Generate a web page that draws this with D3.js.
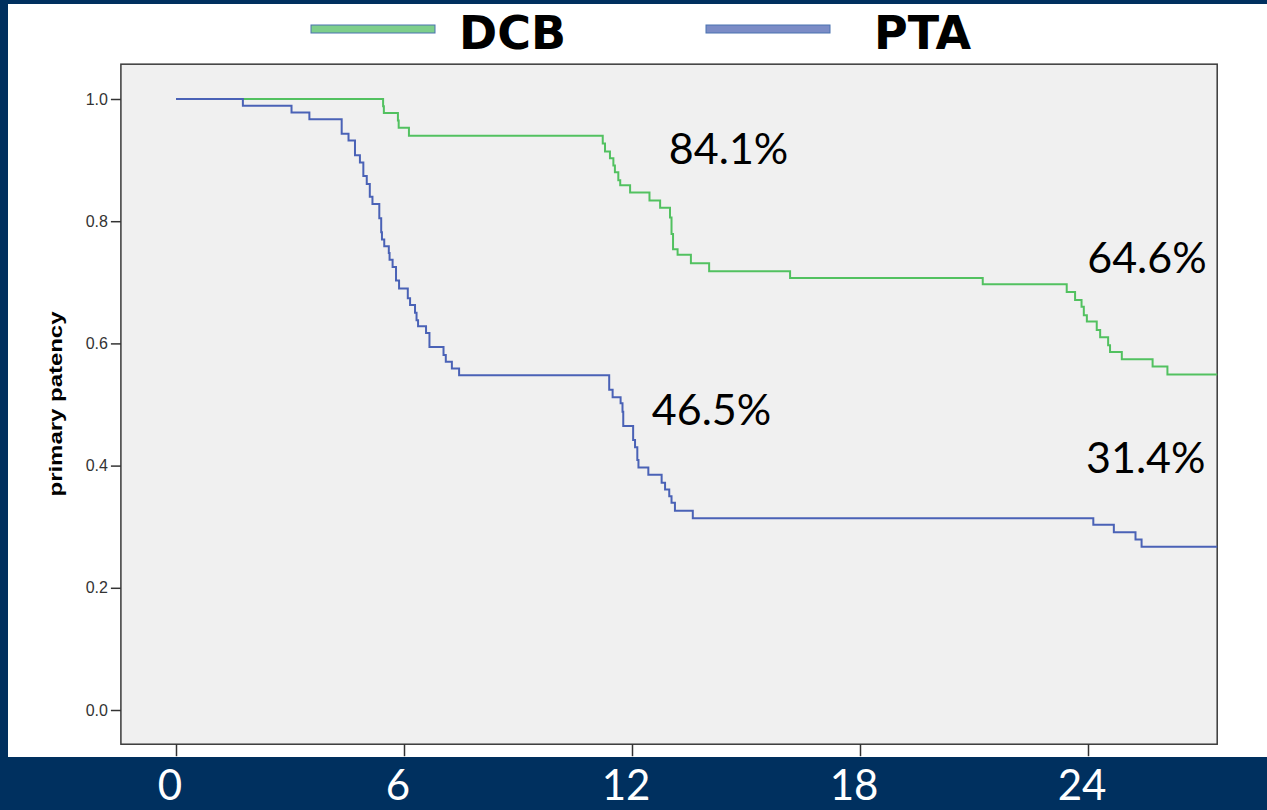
<!DOCTYPE html>
<html>
<head>
<meta charset="utf-8">
<script src="https://cdn.jsdelivr.net/npm/d3@7"></script>
<style>
  body { margin: 0; background: #00305f; }
</style>
</head>
<body>
<script>
'use strict';

// kaplan-meier steps (months, survival)
const dcbMonths = [0, 5.45, 5.47, 5.84, 5.86, 6.13, 11.23, 11.29, 11.42, 11.51,
  11.55, 11.64, 11.69, 11.95, 12.46, 12.74, 13.00, 13.04, 13.08, 13.20,
  13.55, 14.03, 16.16, 21.23, 23.44, 23.66, 23.83, 23.89, 23.97, 24.23,
  24.32, 24.53, 24.58, 24.89, 25.70, 26.09];
const dcbValues = [1, 0.988, 0.977, 0.965, 0.953, 0.940, 0.927, 0.914, 0.903, 0.891,
  0.880, 0.867, 0.859, 0.847, 0.834, 0.822, 0.806, 0.779, 0.754, 0.745,
  0.731, 0.718, 0.707, 0.697, 0.684, 0.671, 0.660, 0.646, 0.636, 0.622,
  0.610, 0.597, 0.586, 0.574, 0.562, 0.549];

const ptaMonths = [0, 1.76, 3.04, 3.51, 4.36, 4.54, 4.71, 4.84, 4.93, 5.02,
  5.10, 5.17, 5.35, 5.40, 5.42, 5.48, 5.60, 5.62, 5.70, 5.79,
  5.87, 6.10, 6.16, 6.29, 6.33, 6.37, 6.58, 6.67, 7.04, 7.10,
  7.26, 7.45, 11.40, 11.49, 11.70, 11.75, 11.77, 12.03, 12.08, 12.14,
  12.17, 12.43, 12.78, 12.87, 12.98, 13.04, 13.13, 13.60, 24.14, 24.68,
  25.25, 25.41];
const ptaValues = [1, 0.989, 0.978, 0.967, 0.943, 0.932, 0.908, 0.896, 0.874, 0.861,
  0.840, 0.828, 0.805, 0.782, 0.770, 0.759, 0.748, 0.737, 0.725, 0.703,
  0.690, 0.674, 0.663, 0.650, 0.638, 0.628, 0.617, 0.594, 0.581, 0.570,
  0.559, 0.548, 0.524, 0.512, 0.502, 0.488, 0.465, 0.442, 0.430, 0.409,
  0.397, 0.385, 0.372, 0.361, 0.350, 0.339, 0.326, 0.314, 0.303, 0.291,
  0.279, 0.267];

const followUpEnd = 27.4;
const seriesNames = ['DCB', 'PTA'];
const xTicks = [0, 6, 12, 18, 24];
const yTicks = [0, 0.2, 0.4, 0.6, 0.8, 1.0];
const yTitle = 'primary patency';
const rateLabels = ['84.1%', '64.6%', '46.5%', '31.4%'];

(function() {

  let svg = '';
  let map = '';

  window.onload = function() {
    svg = d3.select('body')
      .append('svg')
      .attr('width', 1267)
      .attr('height', 810)
      .style('display', 'block');

    // dark slide background with the white chart panel
    svg.append('rect')
      .attr('width', 1267).attr('height', 810)
      .attr('fill', '#00305f');
    svg.append('rect')
      .attr('x', 8).attr('y', 4)
      .attr('width', 1259).attr('height', 753)
      .attr('fill', 'white');

    map = drawAxes();
    plotCurves(map);
    makeLegend();
    makeLabels(map);
  }

  // scales, frame, ticks
  function drawAxes() {
    let xScale = d3.scaleLinear().domain([0, 24]).range([176, 1088]);
    let yScale = d3.scaleLinear().domain([0, 1]).range([710, 99]);

    let x0 = xScale(-1.45), x1 = xScale(followUpEnd);
    let yTop = yScale(1.057), yBot = yScale(-0.056);

    // grey plot area
    svg.append('rect')
      .attr('x', x0).attr('y', yTop)
      .attr('width', x1 - x0).attr('height', yBot - yTop)
      .attr('fill', '#f0f0f0')
      .attr('stroke', '#3a3a3a')
      .attr('stroke-width', 1.5);

    // y axis on the left of the frame
    let yAxis = d3.axisLeft(yScale)
      .tickValues(yTicks)
      .tickFormat(d3.format('.1f'))
      .tickSize(10)
      .tickPadding(3);
    let gy = svg.append('g')
      .attr('transform', 'translate(' + x0 + ',0)')
      .call(yAxis);
    gy.select('.domain').remove();
    gy.selectAll('line').attr('stroke', '#333').attr('stroke-width', 1.5);
    gy.selectAll('text')
      .attr('fill', '#333')
      .style('font', '16px "Liberation Sans", Arial, sans-serif');

    // x axis ticks under the frame
    let xAxis = d3.axisBottom(xScale)
      .tickValues(xTicks)
      .tickSize(12)
      .tickFormat('');
    let gx = svg.append('g')
      .attr('transform', 'translate(0,' + yBot + ')')
      .call(xAxis);
    gx.select('.domain').remove();
    gx.selectAll('line').attr('stroke', '#333').attr('stroke-width', 1.5);

    // big white month labels on the blue band
    svg.selectAll('.xlab')
      .data(xTicks)
      .enter()
      .append('text')
      .attr('class', 'xlab')
      .attr('x', (d) => xScale(d) - 6)
      .attr('y', 800)
      .attr('text-anchor', 'middle')
      .attr('fill', 'white')
      .style('font', '42px Lato, "Open Sans", sans-serif')
      .text((d) => d);

    return { x: xScale, y: yScale };
  }

  function plotCurves(m) {
    const line = d3.line()
      .x(d => m.x(d[0]))
      .y(d => m.y(d[1]))
      .curve(d3.curveStepAfter);

    let groups = [
      { months: dcbMonths, values: dcbValues, color: '#52c160' },
      { months: ptaMonths, values: ptaValues, color: '#4a62b6' }
    ];

    groups.forEach((g) => {
      let pts = g.months.map((t, i) => [t, g.values[i]]);
      pts.push([followUpEnd, g.values[g.values.length - 1]]);
      svg.append('path')
        .datum(pts)
        .attr('d', line)
        .attr('fill', 'none')
        .attr('stroke', g.color)
        .attr('stroke-width', 2);
    });
  }

  // legend swatches at the top of the slide
  function makeLegend() {
    let fills = ['#7dce8b', '#7b8cc6'];
    let starts = [311, 706];
    let textX = [459, 874];
    seriesNames.forEach((name, i) => {
      svg.append('rect')
        .attr('x', starts[i]).attr('y', 25)
        .attr('width', 124).attr('height', 8)
        .attr('fill', fills[i])
        .attr('stroke', '#4a72b0')
        .attr('stroke-width', 1);
      svg.append('text')
        .attr('x', textX[i])
        .attr('y', 49)
        .style('font', 'bold 46px "DejaVu Sans", sans-serif')
        .attr('fill', 'black')
        .text(name);
    });
  }

  // y title and the patency rates
  function makeLabels(m) {
    svg.append('text')
      .attr('transform', 'translate(62, 404)rotate(-90)')
      .attr('text-anchor', 'middle')
      .attr('textLength', 185)
      .attr('lengthAdjust', 'spacingAndGlyphs')
      .style('font', 'bold 18px "Liberation Sans", Arial, sans-serif')
      .attr('fill', 'black')
      .text(yTitle);

    // anchors in data units: month, survival
    let anchors = [[12.97, 0.893], [23.98, 0.716], [12.52, 0.467], [23.95, 0.388]];
    rateLabels.forEach((txt, i) => {
      svg.append('text')
        .attr('x', m.x(anchors[i][0]))
        .attr('y', m.y(anchors[i][1]))
        .style('font', '43px Lato, "Open Sans", sans-serif')
        .attr('fill', 'black')
        .text(txt);
    });
  }

})();
</script>
</body>
</html>
